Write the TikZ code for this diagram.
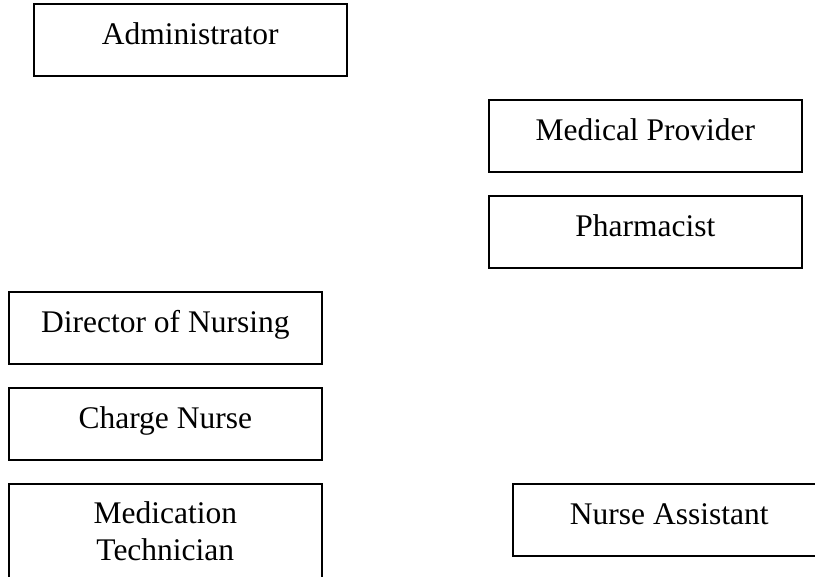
\documentclass[tikz,border=0pt]{standalone}
\usepackage{fontspec}
\setmainfont{Liberation Serif}
\tikzstyle{role} = [draw, line width=1.6pt, rectangle, minimum width=313pt, inner sep=0pt, text height=41pt, text depth=31pt, align=center, anchor=north west, font=\fontsize{31.5}{37}\selectfont]

\begin{document}
\begin{tikzpicture}[x=1pt,y=-1pt]
  \useasboundingbox (0,0) rectangle (815,577);
  \clip (0,0) rectangle (815,577);
  % boxes
  \foreach \nodename/\rolename/\x/\y in {
    admin/Administrator/33/3,
    provider/Medical Provider/488/99,
    pharm/Pharmacist/488/195,
    don/Director of Nursing/8/291,
    charge/Charge Nurse/8/387,
    assistant/Nurse Assistant/512/483}
  {
    \node[role] (\nodename) at (\x,\y) {\rolename};
  }
  % two lines, runs off the bottom
  \node[role, text height=77pt, text depth=30pt] (medtech) at (8,483) {Medication\\Technician};
\end{tikzpicture}
\end{document}
